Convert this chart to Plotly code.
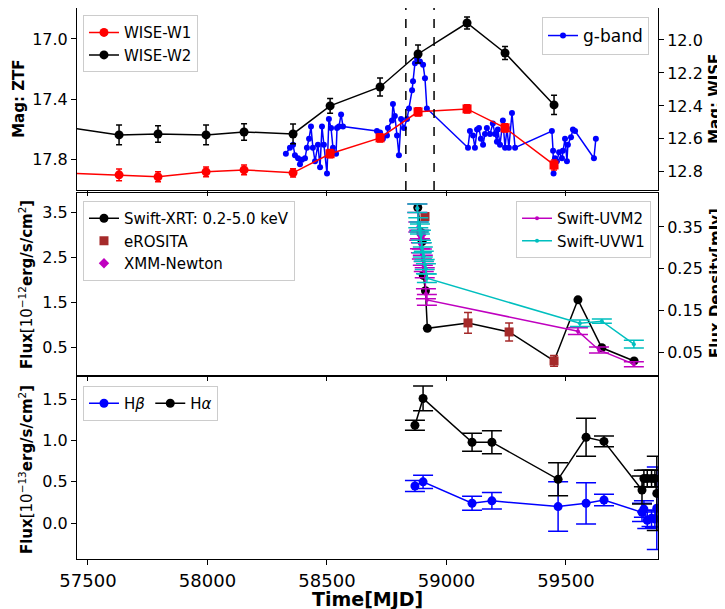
import plotly.graph_objects as go

# ---------------- Panel 1: optical / IR light curves ----------------
wise_mjd = [57270, 57630, 57793, 57994, 58153, 58358, 58513, 58722, 58881, 59086, 59245, 59450]
w1_mag = [12.80, 12.818, 12.830, 12.800, 12.788, 12.806, 12.69, 12.594, 12.436, 12.418, 12.533, 12.758]
w1_err = [0.03, 0.036, 0.03, 0.03, 0.03, 0.025, 0.025, 0.025, 0.025, 0.025, 0.025, 0.03]
w1_sym = ["circle", "circle", "circle", "circle", "circle", "circle",
          "square", "square", "square", "square", "square", "square"]
w2_mag = [12.50, 12.576, 12.570, 12.576, 12.558, 12.570, 12.40, 12.285, 12.085, 11.897, 12.079, 12.394]
w2_err = [0.06, 0.06, 0.05, 0.06, 0.05, 0.06, 0.045, 0.055, 0.055, 0.036, 0.04, 0.058]

g_mjd = [58328, 58345, 58358, 58366, 58379, 58387, 58395, 58408, 58416, 58425, 58433, 58441, 58450,
         58462, 58471, 58479, 58487, 58500, 58508, 58517, 58525, 58538, 58542, 58550, 58559, 58567,
         58709, 58722, 58734, 58751, 58755, 58772, 58776, 58784, 58793, 58801, 58810, 58822, 58835,
         58843, 58856, 58860, 58868, 58877, 58889, 58902, 58910, 58918,
         59090, 59098, 59111, 59119, 59128, 59136, 59144, 59153, 59161, 59169, 59182, 59194, 59203,
         59211, 59215, 59224, 59236, 59245, 59253, 59261, 59274, 59287,
         59441, 59446, 59448, 59454, 59462, 59471, 59483, 59487, 59496, 59504, 59508, 59521, 59529,
         59538, 59617, 59625]
g_mag = [17.76, 17.72, 17.70, 17.77, 17.79, 17.83, 17.80, 17.79, 17.72, 17.66, 17.58, 17.72, 17.81,
         17.70, 17.85, 17.58, 17.70, 17.89, 17.53, 17.59, 17.72, 17.76, 17.59, 17.58, 17.50, 17.58,
         17.61, 17.62, 17.66, 17.64, 17.59, 17.54, 17.43, 17.51, 17.64, 17.77, 17.53, 17.59, 17.53,
         17.46, 17.34, 17.28, 17.16, 17.13, 17.15, 17.17, 17.26, 17.46,
         17.72, 17.61, 17.64, 17.72, 17.60, 17.59, 17.66, 17.70, 17.63, 17.59, 17.63, 17.56, 17.63,
         17.68, 17.60, 17.70, 17.54, 17.72, 17.59, 17.72, 17.49, 17.72,
         17.61, 17.74, 17.89, 17.79, 17.81, 17.75, 17.79, 17.74, 17.66, 17.81, 17.70, 17.65, 17.60,
         17.61, 17.79, 17.66]

flare_lines = [58830, 58948]

# ---------------- Panel 2: X-ray and UV ----------------
xrt_mjd = [58880, 58893, 58898, 58903, 58912, 58920, 59550, 59650, 59785]
xrt_flux = [3.60, 3.05, 2.85, 2.10, 1.76, 0.93, 1.56, 0.50, 0.21]
xrt_err = [0.06, 0.06, 0.06, 0.05, 0.05, 0.04, 0.05, 0.03, 0.02]

ero_mjd = [58910, 59090, 59262, 59450]
ero_flux = [3.40, 1.05, 0.85, 0.21]
ero_err = [0.08, 0.23, 0.20, 0.12]

xmm_mjd = [58895]
xmm_flux = [3.00]
xmm_err = [0.05]

uvm2_mjd = [58878, 58882, 58886, 58889, 58893, 58897, 58901, 58905, 58909, 58914, 58918, 59550, 59638, 59784]
uvm2_flux = [0.395, 0.35, 0.33, 0.31, 0.30, 0.285, 0.27, 0.255, 0.24, 0.19, 0.175, 0.100, 0.055, 0.021]
uvm2_err = [0.010, 0.012, 0.012, 0.012, 0.012, 0.012, 0.012, 0.012, 0.012, 0.012, 0.013, 0.008, 0.007, 0.006]

uvw1_mjd = [58878, 58882, 58886, 58889, 58893, 58897, 58901, 58905, 58909, 58914, 58918, 59558, 59650, 59784]
uvw1_flux = [0.395, 0.36, 0.35, 0.345, 0.33, 0.30, 0.29, 0.28, 0.26, 0.25, 0.227, 0.119, 0.124, 0.069]
uvw1_err = [0.010, 0.012, 0.012, 0.012, 0.012, 0.012, 0.012, 0.012, 0.012, 0.012, 0.010, 0.008, 0.005, 0.009]

# ---------------- Panel 3: Balmer lines ----------------
line_mjd = [58868, 58902, 59107, 59190, 59467, 59584, 59659, 59818, 59826, 59840, 59858, 59872, 59880]
ha_flux = [1.185, 1.51, 0.98, 0.98, 0.53, 1.04, 0.99, 0.40, 0.54, 0.54, 0.54, 0.54, 0.36]
ha_err = [0.06, 0.15, 0.11, 0.14, 0.20, 0.23, 0.065, 0.17, 0.10, 0.10, 0.10, 0.10, 0.45]
hb_flux = [0.45, 0.50, 0.24, 0.27, 0.20, 0.24, 0.28, 0.13, 0.17, 0.035, 0.06, 0.05, 0.18]
hb_err = [0.067, 0.08, 0.085, 0.10, 0.30, 0.25, 0.07, 0.11, 0.10, 0.10, 0.10, 0.10, 0.50]

x_ticks = [57500, 58000, 58500, 59000, 59500]

# ---------------- style ----------------
FONT = "DejaVu Sans"
RED, BLACK, BLUE = "#ff0000", "#000000", "#0000ff"
BROWN, MAG, CYAN = "#a52a2a", "#bf00bf", "#00bfbf"

fig = go.Figure()

def eb(arr, color, width=3, thick=1.5):
    return dict(type="data", array=arr, visible=True, color=color, width=width, thickness=thick)

# Panel 1
fig.add_trace(go.Scatter(x=wise_mjd, y=w1_mag, mode="lines+markers", name="WISE-W1",
                         line=dict(color=RED, width=1.5), marker=dict(color=RED, size=9, symbol=w1_sym),
                         error_y=eb(w1_err, RED), xaxis="x", yaxis="y2", legend="legend"))
fig.add_trace(go.Scatter(x=wise_mjd, y=w2_mag, mode="lines+markers", name="WISE-W2",
                         line=dict(color=BLACK, width=1.5), marker=dict(color=BLACK, size=9),
                         error_y=eb(w2_err, BLACK), xaxis="x", yaxis="y2", legend="legend"))
fig.add_trace(go.Scatter(x=g_mjd, y=g_mag, mode="lines+markers", name="g-band",
                         line=dict(color=BLUE, width=1.5), marker=dict(color=BLUE, size=6),
                         xaxis="x", yaxis="y", legend="legend2"))

# Panel 2: black connecting line through the X-ray points (XRT + later eROSITA)
pairs = sorted(list(zip(xrt_mjd, xrt_flux)) + list(zip(ero_mjd[1:], ero_flux[1:])))
fig.add_trace(go.Scatter(x=[p[0] for p in pairs], y=[p[1] for p in pairs], mode="lines",
                         line=dict(color=BLACK, width=1.5), showlegend=False, hoverinfo="skip",
                         xaxis="x2", yaxis="y3"))
fig.add_trace(go.Scatter(x=uvm2_mjd, y=uvm2_flux, mode="lines+markers", name="Swift-UVM2",
                         line=dict(color=MAG, width=1.5), marker=dict(color=MAG, size=4),
                         error_y=eb(uvm2_err, MAG, width=10), xaxis="x2", yaxis="y4", legend="legend4"))
fig.add_trace(go.Scatter(x=uvw1_mjd, y=uvw1_flux, mode="lines+markers", name="Swift-UVW1",
                         line=dict(color=CYAN, width=1.5), marker=dict(color=CYAN, size=4),
                         error_y=eb(uvw1_err, CYAN, width=10), xaxis="x2", yaxis="y4", legend="legend4"))
fig.add_trace(go.Scatter(x=xrt_mjd, y=xrt_flux, mode="markers", name="Swift-XRT: 0.2-5.0 keV",
                         marker=dict(color=BLACK, size=9), showlegend=False,
                         error_y=eb(xrt_err, BLACK), xaxis="x2", yaxis="y3"))
fig.add_trace(go.Scatter(x=[None], y=[None], mode="lines+markers", name="Swift-XRT: 0.2-5.0 keV",
                         line=dict(color=BLACK, width=1.5), marker=dict(color=BLACK, size=9),
                         xaxis="x2", yaxis="y3", legend="legend3"))
fig.add_trace(go.Scatter(x=ero_mjd, y=ero_flux, mode="markers", name="eROSITA",
                         marker=dict(color=BROWN, size=9, symbol="square"),
                         error_y=eb(ero_err, BROWN, width=4), xaxis="x2", yaxis="y3", legend="legend3"))
fig.add_trace(go.Scatter(x=xmm_mjd, y=xmm_flux, mode="markers", name="XMM-Newton",
                         marker=dict(color=MAG, size=8, symbol="diamond"),
                         error_y=eb(xmm_err, MAG, width=3), xaxis="x2", yaxis="y3", legend="legend3"))

# Panel 3
fig.add_trace(go.Scatter(x=line_mjd, y=hb_flux, mode="lines+markers", name="H<i>β</i>",
                         line=dict(color=BLUE, width=1.5), marker=dict(color=BLUE, size=9),
                         error_y=eb(hb_err, BLUE, width=10), xaxis="x3", yaxis="y5", legend="legend5"))
fig.add_trace(go.Scatter(x=line_mjd, y=ha_flux, mode="lines+markers", name="H<i>α</i>",
                         line=dict(color=BLACK, width=1.5), marker=dict(color=BLACK, size=9),
                         error_y=eb(ha_err, BLACK, width=10), xaxis="x3", yaxis="y5", legend="legend5"))

for m in flare_lines:
    fig.add_shape(type="line", x0=m, x1=m, y0=0, y1=1, xref="x", yref="y domain",
                  line=dict(color=BLACK, width=1.5, dash="dash"))

XR = [57454, 59885]
D1, D2, D3 = [0.6697, 1.0], [0.334, 0.6642], [0.0, 0.3303]

axbase = dict(showline=True, linecolor="black", linewidth=1, ticks="outside", ticklen=5,
              tickcolor="black", showgrid=False, zeroline=False, automargin=False,
              tickfont=dict(family=FONT, size=16, color="black"))
xax = dict(axbase, range=XR, tickvals=x_ticks, ticktext=[str(t) for t in x_ticks], mirror=True)
tfont = dict(family=FONT, size=15, color="black")

lbox = dict(bgcolor="rgba(255,255,255,0.8)", bordercolor="#cccccc", borderwidth=1,
            font=dict(family=FONT, size=15, color="black"), xanchor="left", yanchor="top")

def ytitle(text, x, y):
    return dict(text=text, x=x, y=y, xref="paper", yref="paper", showarrow=False,
                textangle=-90, xanchor="center", yanchor="middle", font=tfont)

annotations = [
    ytitle("<b>Mag: ZTF</b>", -0.1, 0.835),
    ytitle("<b>Mag: WISE</b>", 1.098, 0.835),
    ytitle("<b>Flux</b>[10<sup>−12</sup><b>erg/s/cm</b><sup>2</sup><b>]</b>", -0.088, 0.499),
    ytitle("<b>Flux Density[mJy]</b>", 1.100, 0.501),
    ytitle("<b>Flux</b>[10<sup>−13</sup><b>erg/s/cm</b><sup>2</sup><b>]</b>", -0.088, 0.163),
    dict(text="<b>Time[MJD]</b>", x=0.5, y=-0.072, xref="paper", yref="paper", showarrow=False,
         xanchor="center", yanchor="middle", font=dict(family=FONT, size=19, color="black")),
]

# The page body has an 8px margin, so the figure is 16px smaller than the window
fig.update_layout(
    width=717, height=601,
    margin=dict(l=69, r=67, t=0, b=50),
    paper_bgcolor="white", plot_bgcolor="white",
    font=dict(family=FONT, color="black"),
    xaxis=dict(xax, anchor="y", domain=[0, 1], showticklabels=False),
    xaxis2=dict(xax, anchor="y3", domain=[0, 1], matches="x", showticklabels=False),
    xaxis3=dict(xax, anchor="y5", domain=[0, 1], matches="x",
                tickfont=dict(family=FONT, size=18, color="black")),
    yaxis=dict(axbase, domain=D1, range=[18.0, 16.795], tickvals=[17.0, 17.4, 17.8],
               ticktext=["17.0", "17.4", "17.8"], mirror=True, anchor="x"),
    yaxis2=dict(axbase, overlaying="y", side="right", anchor="x", range=[12.91, 11.806],
                tickvals=[12.0, 12.2, 12.4, 12.6, 12.8],
                ticktext=["12.0", "12.2", "12.4", "12.6", "12.8"]),
    yaxis3=dict(axbase, domain=D2, range=[-0.1, 3.92], tickvals=[0.5, 1.5, 2.5, 3.5],
                mirror=True, anchor="x2"),
    yaxis4=dict(axbase, overlaying="y3", side="right", anchor="x2", range=[-0.005, 0.4315],
                tickvals=[0.05, 0.15, 0.25, 0.35]),
    yaxis5=dict(axbase, domain=D3, range=[-0.435, 1.77], tickvals=[0.0, 0.5, 1.0, 1.5],
                ticktext=["0.0", "0.5", "1.0", "1.5"], mirror=True, anchor="x3"),
    legend=dict(lbox, x=0.0103, y=0.987),
    legend2=dict(lbox, x=0.9845, y=0.9837, xanchor="right",
                 font=dict(family=FONT, size=17, color="black")),
    legend3=dict(lbox, x=0.0103, y=0.6497),
    legend4=dict(lbox, x=0.988, y=0.6497, xanchor="right"),
    legend5=dict(lbox, x=0.0103, y=0.314, orientation="h"),
    annotations=annotations,
    showlegend=True,
)

fig.write_html("out.html")
